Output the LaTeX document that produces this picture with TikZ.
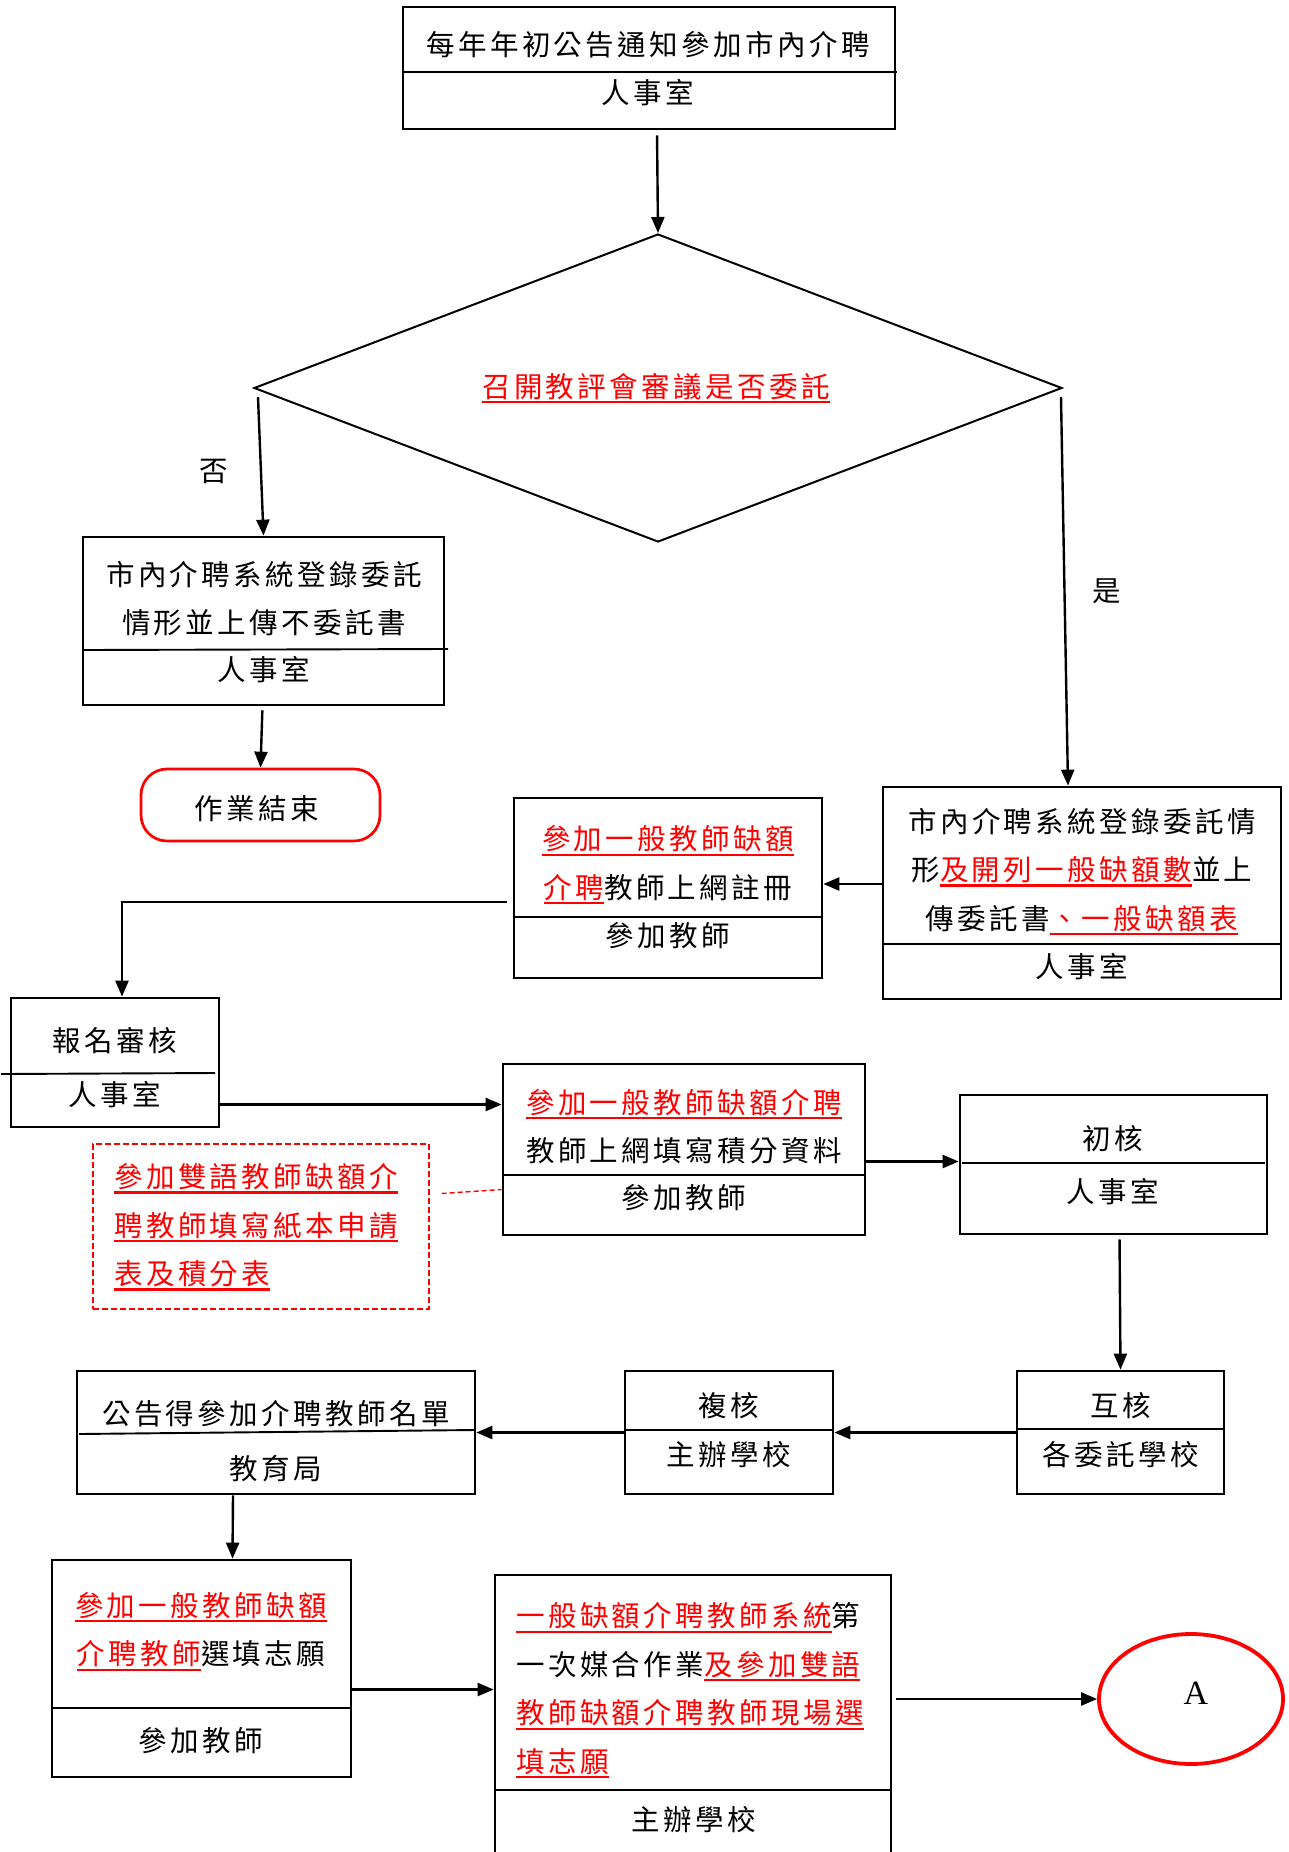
\documentclass[tikz,border=0pt]{standalone}
\usepackage{fontspec}
\setmainfont{Noto Sans CJK TC}[LetterSpace=12]
\newfontfamily\latfont{Liberation Serif}
\usetikzlibrary{arrows.meta,shapes.geometric,fit,calc}
\newcommand{\ru}[1]{{\color{red}\setbox0\hbox{#1}\rlap{\rule[-6pt]{\wd0}{2.2pt}}\box0}}
\begin{document}
\begin{tikzpicture}[x=1pt,y=-1pt,
  box/.style={draw, line width=2.7pt, inner sep=0pt},
  arr/.style={-{Triangle[length=16pt,width=13pt]}, line width=2.4pt},
  div/.style={line width=1.9pt},
  txt/.style={font=\fontsize{28.5}{48.5}\selectfont, align=center, inner sep=0pt},
  ltxt/.style={font=\fontsize{28.5}{48.5}\selectfont, align=left, inner sep=0pt, anchor=west},
]
\useasboundingbox (0,0) rectangle (1288,1852);
\clip (0,0) rectangle (1288,1852);

% ---- boxes ----
\node[box, fit={(403,7) (895,129)}] (top) {};
\draw[div] (403,72) -- (897,72);
\node[txt] (toptx) at (648,45) {每年年初公告通知參加市內介聘};
\node[txt] (toplb) at (648,93) {人事室};

\node[draw, diamond, line width=2pt, minimum width=808pt, minimum height=308pt, inner sep=0pt, aspect=2.6] (dec) at (658,388) {};
\node[txt] (dectx) at (656,388) {\ru{召開教評會審議是否委託}};
\node[txt] (no) at (214,471) {否};
\node[txt] (yes) at (1107,591) {是};

\node[box, fit={(83,537) (444,705)}] (lb) {};
\draw[div] (83,650) -- (448,649);
\node[txt] (lbtx) at (264,598.5) {市內介聘系統登錄委託\\情形並上傳不委託書};
\node[txt] (lblb) at (264,670) {人事室};

\node[draw=red, line width=2.7pt, rounded corners=26pt, inner sep=0pt, fit={(141,769) (380,841)}] (end) {};
\node[txt] (endtx) at (257,809) {作業結束};

\node[box, fit={(883,787) (1281,999)}] (rb) {};
\draw[div] (883,944) -- (1281,944);
\node[txt] (rbtx) at (1082,871.5) {市內介聘系統登錄委託情\\形\ru{及開列一般缺額數}並上\\傳委託書\ru{、一般缺額表}};
\node[txt] (rblb) at (1082,967) {人事室};

\node[box, fit={(514,798) (822,978)}] (mb) {};
\draw[div] (514,917) -- (822,917);
\node[txt] (mbtx) at (668,865) {\ru{參加一般教師缺額}\\\ru{介聘}教師上網註冊};
\node[txt] (mblb) at (668,936) {參加教師};

\node[box, fit={(11,998) (219,1127)}] (bm) {};
\draw[div] (1,1074) -- (215,1073);
\node[txt] (bmtx) at (115,1041) {報名審核};
\node[txt] (bmlb) at (115,1095) {人事室};

\node[box, fit={(503,1064) (865,1235)}] (b3) {};
\draw[div] (503,1175) -- (865,1175);
\node[txt] (b3tx) at (684,1126.5) {\ru{參加一般教師缺額介聘}\\教師上網填寫積分資料};
\node[txt] (b3lb) at (684,1198) {參加教師};

\node[draw=red, dash pattern=on 6pt off 3pt, line width=1.4pt, inner sep=0pt, fit={(93,1144) (429,1309)}] (db) {};
\node[ltxt] (dbtx) at (114,1227) {\ru{參加雙語教師缺額介}\\\ru{聘教師填寫紙本申請}\\\ru{表及積分表}};

\node[box, fit={(960,1095) (1267,1234)}] (c1) {};
\draw[div] (962,1163) -- (1265,1163);
\node[txt] (c1tx) at (1113,1139) {初核};
\node[txt] (c1lb) at (1113,1192) {人事室};

\node[box, fit={(1017,1371) (1224,1494)}] (m1) {};
\draw[div] (1017,1429) -- (1224,1429);
\node[txt] (m1tx) at (1121,1406) {互核};
\node[txt] (m1lb) at (1121,1455) {各委託學校};

\node[box, fit={(625,1371) (833,1494)}] (r1) {};
\draw[div] (625,1430) -- (833,1430);
\node[txt] (r1tx) at (729,1406) {複核};
\node[txt] (r1lb) at (729,1455) {主辦學校};

\node[box, fit={(77,1371) (475,1494)}] (pb) {};
\draw[div] (79,1434) -- (475,1430);
\node[txt] (pbtx) at (276,1414) {公告得參加介聘教師名單};
\node[txt] (pblb) at (276,1469) {教育局};

\node[box, fit={(52,1560) (351,1777)}] (b5) {};
\draw[div] (52,1708) -- (351,1708);
\node[txt] (b5tx) at (201,1631.5) {\ru{參加一般教師缺額}\\\ru{介聘教師}選填志願};
\node[txt] (b5lb) at (201,1741) {參加教師};

\node[box, fit={(495,1575) (891,1880)}] (b6) {};
\draw[div] (495,1790) -- (891,1790);
\node[ltxt] (b6tx) at (516,1690.5) {\ru{一般缺額介聘教師系統}第\\一次媒合作業\ru{及參加雙語}\\\ru{教師缺額介聘教師現場選}\\\ru{填志願}};
\node[txt] (b6lb) at (694,1820) {主辦學校};

\node[ellipse, draw=red, line width=3.8pt, minimum width=184pt, minimum height=130pt, inner sep=0pt] (circ) at (1191,1699) {};
\node[font=\latfont\fontsize{34}{34}\selectfont, inner sep=0pt] (circtx) at (1196,1693) {A};

% ---- connectors ----
\draw[arr, shorten <=5pt] ([xshift=8pt]top.south) -- (dec.north);
\draw[arr] ([shift={(5pt,-9pt)}]dec.west) -- (lb.north);
\draw[arr] ([shift={(-2pt,-9pt)}]dec.east) -- ([xshift=-14pt]rb.north);
\draw[arr, shorten <=4pt] ([xshift=-1pt]lb.south) -- (end.north);
\coordinate (p1) at ([yshift=9pt]rb.west);
\draw[arr] (p1) -- (mb.east |- p1);
\draw[arr] ([shift={(-6pt,-14pt)}]mb.west) -| ([xshift=7pt]bm.north);
\coordinate (p2) at ([yshift=-42pt]bm.east);
\draw[arr] (p2) -- (b3.west |- p2);
\coordinate (p3) at ([shift={(-2pt,-12pt)}]b3.east);
\draw[arr] (p3) -- (c1.west |- p3);
\draw[red, dash pattern=on 5pt off 3pt, line width=1.4pt] ([shift={(12pt,33pt)}]db.east) -- ([yshift=-40pt]b3.west);
\draw[arr, shorten <=4pt] ([xshift=6pt]c1.south) -- (m1.north);
\draw[arr] (m1.west) -- (r1.east);
\draw[arr] (r1.west) -- (pb.east);
\draw[arr] ([xshift=-43pt]pb.south) -- ([xshift=31pt]b5.north);
\coordinate (p4) at ([yshift=-21pt]b5.east);
\draw[arr] (p4) -- (b6.west |- p4);
\draw[arr, shorten <=4pt] (b6.east |- circ.west) -- (circ.west);
\end{tikzpicture}
\end{document}
